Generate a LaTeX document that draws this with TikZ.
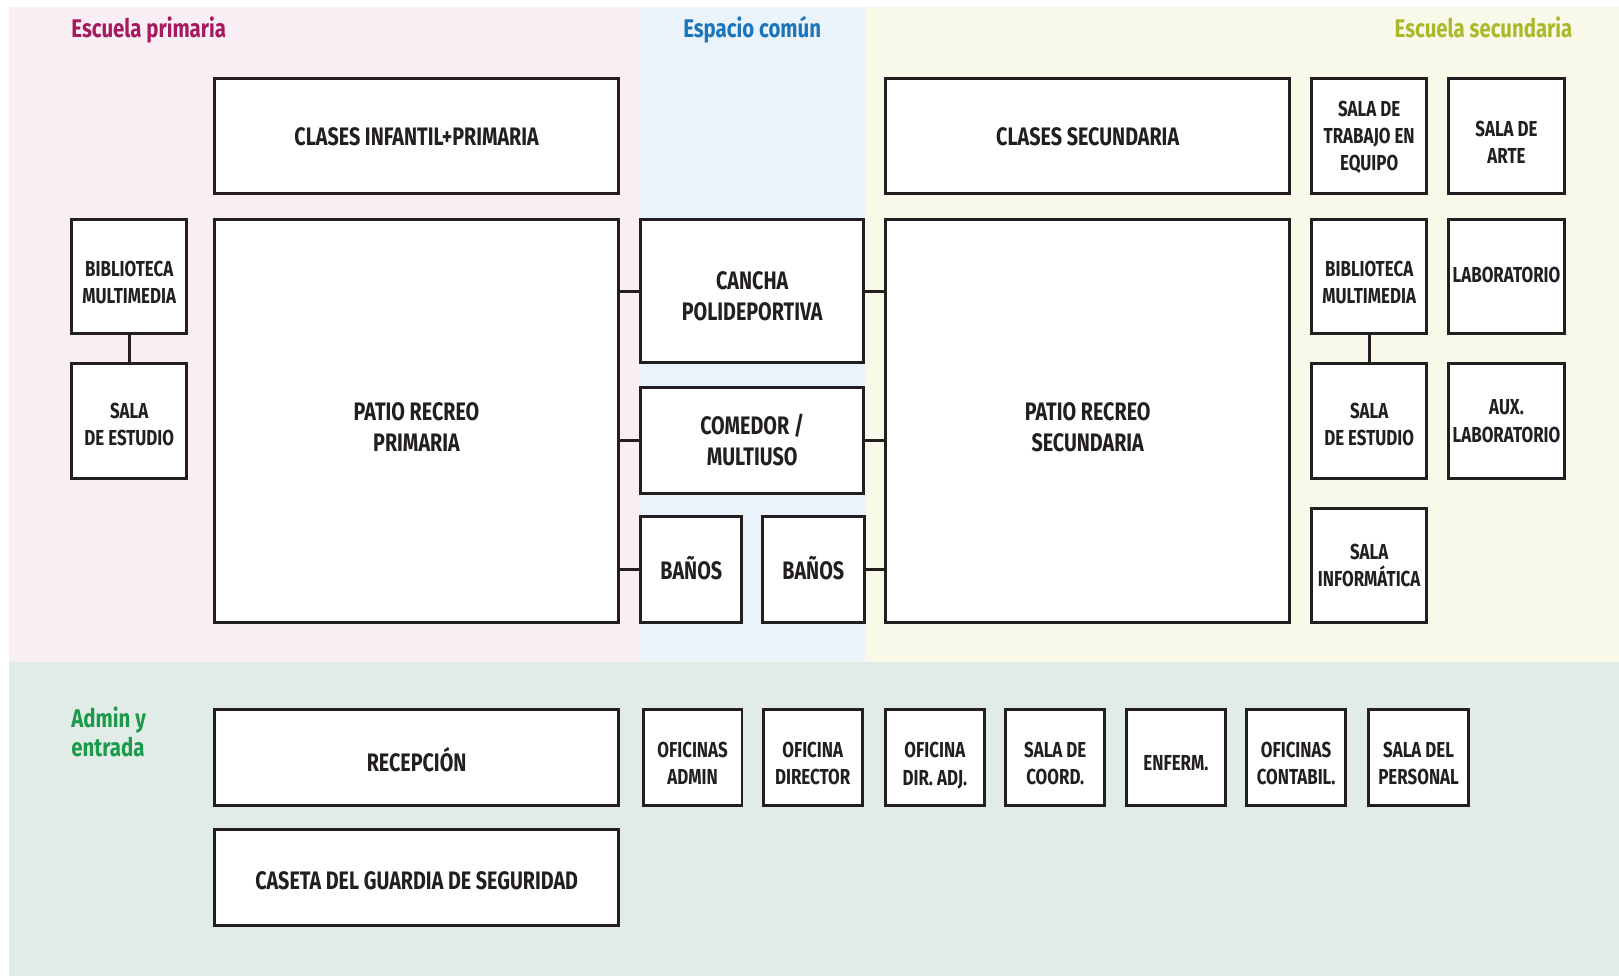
\documentclass[tikz,border=0pt]{standalone}
\usepackage{fontspec}
\setmainfont{Fira Sans}[FakeStretch=0.78]
\newfontfamily\titlefont{Fira Sans}[FakeStretch=0.80]
\definecolor{ink}{HTML}{231F20}
\definecolor{bgPrim}{HTML}{F8EEF4}
\definecolor{bgCom}{HTML}{EAF2FA}
\definecolor{bgSec}{HTML}{F9F9EA}
\definecolor{bgAdm}{HTML}{E1ECE6}
\definecolor{cPrim}{HTML}{A6195E}
\definecolor{cCom}{HTML}{1B75BB}
\definecolor{cSec}{HTML}{A9B92A}
\definecolor{cAdm}{HTML}{1A9A4A}
\newcommand\bigfont{\bfseries\fontsize{24.5}{30}\selectfont}
\newcommand\smallfont{\bfseries\fontsize{21}{26.3}\selectfont}
% push the text of a room down by #1 (pt)
\newcommand\dn[1]{\rule{0pt}{\dimexpr\fontcharht\font`H+#1pt+#1pt\relax}}
% push the text of a room up by 2pt
\newcommand\upr{\rule[-4pt]{0pt}{4pt}}
\tikzset{
  room/.style={draw=ink, line width=2.8pt, fill=white, inner sep=0pt, align=center, text=ink, font=\bigfont},
  smallroom/.style={font=\smallfont},
  zonetitle/.style={font=\titlefont\bfseries\fontsize{24.7}{28.4}\selectfont, inner sep=0pt},
  link/.style={draw=ink, line width=2.8pt},
}
\newcommand\mkroom[7][]{%
  \node[room,#1, minimum width={#5-#3-2.8}, minimum height={#6-#4-2.8}] (#2) at ({(#3+#5)/2},{(#4+#6)/2}) {#7};}
\begin{document}
\begin{tikzpicture}[x=1pt,y=-1pt]
\useasboundingbox (0,0) rectangle (1568,945.3);
% zones
\fill[bgPrim] (8.7,6.5) rectangle (620,640.8);
\fill[bgCom] (620,6.5) rectangle (838,640.8);
\fill[bgSec] (838,6.5) rectangle (1568,640.8);
\fill[bgAdm] (8.7,640.8) rectangle (1568,945.3);
% titles
\node[zonetitle, text=cPrim, anchor=base west] (tP) at (69,36.5) {Escuela primaria};
\node[zonetitle, text=cCom, anchor=base] (tC) at (728.5,36.5) {Espacio común};
\node[zonetitle, text=cSec, anchor=base east] (tS) at (1523,36.5) {Escuela secundaria};
\node[zonetitle, text=cAdm, anchor=north west, align=left] (tA) at (69,684.5) {Admin y\\entrada};
% primaria
\mkroom{clP}{206.4}{74.9}{600.6}{188.5}{\dn{1}CLASES INFANTIL+PRIMARIA}
\mkroom{patP}{206.4}{211.5}{600.3}{604.5}{\dn{6}PATIO RECREO\\PRIMARIA}
\mkroom[smallroom]{bibL}{68}{211.5}{182.3}{324}{\dn{6}BIBLIOTECA\\MULTIMEDIA}
\mkroom[smallroom]{estL}{68}{351}{182.3}{464.9}{\dn{3}SALA\\DE ESTUDIO}
% comun
\mkroom{cancha}{619.2}{211.5}{837.8}{352.5}{\dn{5.5}CANCHA\\POLIDEPORTIVA}
\mkroom{comedor}{619.2}{373.5}{837.8}{479.4}{COMEDOR /\\MULTIUSO}
\mkroom{banA}{619.2}{499}{719.9}{604.6}{BAÑOS\upr}
\mkroom{banB}{737}{499}{838.4}{604.6}{BAÑOS\upr}
% secundaria
\mkroom{clS}{856.5}{74.9}{1250.3}{188.5}{\dn{1}CLASES SECUNDARIA}
\mkroom{patS}{856.5}{211.5}{1250.3}{604.5}{\dn{6}PATIO RECREO\\SECUNDARIA}
\mkroom[smallroom]{trab}{1268.8}{74.9}{1383.3}{188.5}{\dn{1.5}SALA DE\\TRABAJO EN\\EQUIPO}
\mkroom[smallroom]{arte}{1401.7}{74.9}{1516.4}{188.5}{\dn{6}SALA DE\\ARTE}
\mkroom[smallroom]{bibR}{1268.8}{211.5}{1383.3}{324.4}{\dn{6}BIBLIOTECA\\MULTIMEDIA}
\mkroom[smallroom]{lab}{1401.7}{211.5}{1516.4}{324.4}{LABORATORIO\upr}
\mkroom[smallroom]{estR}{1268.8}{350.9}{1383.3}{464.9}{\dn{3}SALA\\DE ESTUDIO}
\mkroom[smallroom]{aux}{1401.7}{350.9}{1516.4}{464.9}{AUX.\\LABORATORIO}
\mkroom[smallroom]{info}{1268.8}{490.7}{1383.3}{604.3}{SALA\\INFORMÁTICA}
% admin
\mkroom{recep}{206.6}{686}{600.4}{781.3}{\dn{5}RECEPCIÓN}
\mkroom{caseta}{206.6}{801.6}{600.4}{897.5}{\dn{4}CASETA DEL GUARDIA DE SEGURIDAD}
\mkroom[smallroom]{ofAdm}{621.6}{685.4}{720}{781.9}{\dn{6}OFICINAS\\ADMIN}
\mkroom[smallroom]{ofDir}{737.7}{685.4}{836.5}{781.9}{\dn{6}OFICINA\\DIRECTOR}
\mkroom[smallroom]{ofAdj}{855.8}{685.4}{955}{781.9}{\dn{8}OFICINA\\DIR. ADJ.}
\mkroom[smallroom]{coord}{972.7}{685.4}{1071.4}{781.9}{\dn{6}SALA DE\\COORD.}
\mkroom[smallroom]{enf}{1089.6}{685.4}{1188.2}{781.9}{\dn{5}ENFERM.}
\mkroom[smallroom]{cont}{1205.9}{685.4}{1304.6}{781.9}{\dn{6}OFICINAS\\CONTABIL.}
\mkroom[smallroom]{pers}{1324.3}{685.4}{1423.5}{781.9}{\dn{6}SALA DEL\\PERSONAL}
% links
\draw[link] (bibL.south) -- (estL.north);
\draw[link] (bibR.south) -- (estR.north);
\draw[link] (patP.east |- cancha.west) -- (cancha.west);
\draw[link] (patP.east |- comedor.west) -- (comedor.west);
\draw[link] (patP.east |- banA.west) -- (banA.west);
\draw[link] (cancha.east) -- (patS.west |- cancha.east);
\draw[link] (comedor.east) -- (patS.west |- comedor.east);
\draw[link] (banB.east) -- (patS.west |- banB.east);
\end{tikzpicture}
\end{document}
